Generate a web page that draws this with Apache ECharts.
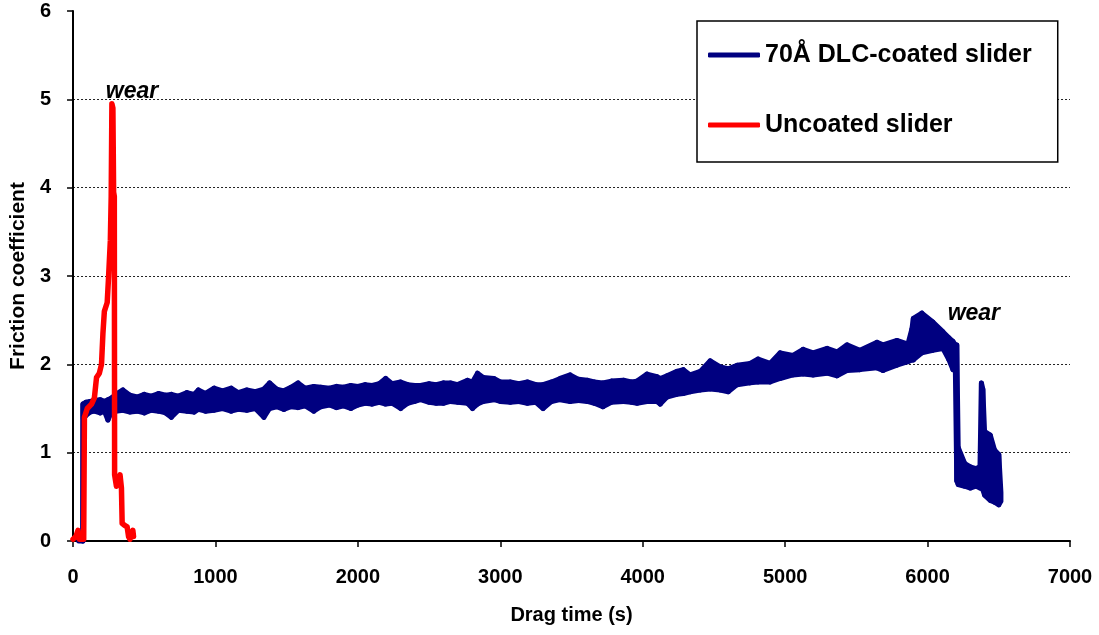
<!DOCTYPE html>
<html>
<head>
<meta charset="utf-8">
<script src="https://cdn.jsdelivr.net/npm/echarts@6/dist/echarts.min.js"></script>
<style>
  html, body { margin: 0; padding: 0; background: #fff; }
  #chart { width: 1099px; height: 635px; }
</style>
</head>
<body>
<div id="chart"></div>
<script>
// Axis ticks
const timeTicks = [0, 1000, 2000, 3000, 4000, 5000, 6000, 7000];
const frictionTicks = [0, 1, 2, 3, 4, 5, 6];

// 70Å DLC-coated slider: drag time (s) with the lower and upper edge of the
// friction trace (the signal oscillates quickly, so it is drawn as a band)
const dlcTime = [
  40, 68, 70, 72, 90, 120, 150, 190, 220, 245, 270, 300, 350, 400, 450, 500, 550, 600, 650, 690,
  740, 800, 850, 880, 930, 990, 1050, 1110, 1160, 1220, 1280, 1340, 1380, 1430, 1480, 1530, 1580, 1630, 1690, 1740,
  1800, 1850, 1900, 1950, 2000, 2050, 2100, 2150, 2195, 2240, 2300, 2350, 2400, 2440, 2500, 2550, 2600, 2650, 2700, 2770,
  2805, 2840, 2880, 2955, 3000, 3070, 3130, 3190, 3250, 3300, 3360, 3420, 3490, 3550, 3610, 3660, 3720, 3780, 3865, 3920,
  3960, 4030, 4100, 4123, 4170, 4240, 4285, 4333, 4404, 4474, 4544, 4600, 4663, 4754, 4810, 4894, 4965, 5055, 5126, 5196,
  5294, 5364, 5434, 5525, 5645, 5687, 5785, 5862, 5890, 5900, 5960, 6037, 6107, 6150, 6178, 6195, 6205, 6215, 6260, 6300,
  6340, 6368, 6378, 6388, 6400, 6440, 6470, 6500, 6515
];
const dlcLow = [
  0.00, 0.00, 0.00, 1.38, 1.42, 1.46, 1.47, 1.45, 1.47, 1.37, 1.46, 1.47, 1.48, 1.46, 1.47, 1.45, 1.48, 1.47, 1.45, 1.40,
  1.48, 1.47, 1.46, 1.49, 1.47, 1.48, 1.50, 1.47, 1.49, 1.48, 1.50, 1.40, 1.50, 1.52, 1.49, 1.52, 1.51, 1.53, 1.47, 1.52,
  1.54, 1.51, 1.53, 1.50, 1.54, 1.56, 1.55, 1.57, 1.55, 1.56, 1.50, 1.56, 1.58, 1.60, 1.57, 1.56, 1.56, 1.58, 1.57, 1.56,
  1.50, 1.55, 1.58, 1.60, 1.58, 1.57, 1.58, 1.56, 1.57, 1.50, 1.58, 1.60, 1.58, 1.59, 1.58, 1.56, 1.52, 1.57, 1.58, 1.57,
  1.56, 1.58, 1.58, 1.55, 1.63, 1.66, 1.67, 1.69, 1.71, 1.72, 1.71, 1.69, 1.77, 1.79, 1.80, 1.80, 1.84, 1.88, 1.89, 1.88,
  1.90, 1.87, 1.93, 1.94, 1.96, 1.93, 1.99, 2.03, 2.05, 2.05, 2.13, 2.16, 2.18, 2.05, 1.94, 1.95, 0.68, 0.64, 0.62, 0.60,
  0.62, 0.60, 0.60, 0.58, 0.52, 0.46, 0.44, 0.41, 0.45
];
const dlcHigh = [
  0.06, 0.06, 1.55, 1.55, 1.57, 1.58, 1.59, 1.60, 1.58, 1.60, 1.62, 1.66, 1.71, 1.65, 1.63, 1.66, 1.64, 1.67, 1.65, 1.66,
  1.64, 1.68, 1.66, 1.71, 1.67, 1.73, 1.70, 1.73, 1.68, 1.71, 1.69, 1.72, 1.79, 1.72, 1.70, 1.74, 1.79, 1.73, 1.75, 1.74,
  1.73, 1.75, 1.74, 1.76, 1.75, 1.77, 1.76, 1.78, 1.84, 1.78, 1.80, 1.77, 1.76, 1.76, 1.78, 1.77, 1.79, 1.79, 1.77, 1.82,
  1.80, 1.90, 1.85, 1.84, 1.80, 1.80, 1.78, 1.80, 1.77, 1.77, 1.80, 1.84, 1.88, 1.83, 1.82, 1.80, 1.79, 1.81, 1.82, 1.80,
  1.81, 1.89, 1.86, 1.84, 1.87, 1.92, 1.94, 1.88, 1.92, 2.04, 1.97, 1.95, 1.99, 2.01, 2.06, 2.01, 2.13, 2.10, 2.17, 2.13,
  2.18, 2.14, 2.22, 2.16, 2.25, 2.22, 2.27, 2.23, 2.40, 2.52, 2.58, 2.48, 2.37, 2.30, 2.26, 2.22, 2.22, 1.06, 0.88, 0.84,
  0.82, 0.84, 1.79, 1.72, 1.24, 1.20, 1.03, 0.98, 0.55
];

// Uncoated slider: drag time (s) and friction coefficient
const uncoatedTime = [
  0, 20, 35, 45, 60, 75, 80, 100, 130, 150, 165, 185, 200, 210, 220, 240, 250, 262, 268, 273,
  280, 285, 290, 292, 305, 320, 330, 340, 345, 360, 380, 390, 400, 420, 425
];
const uncoatedFriction = [
  0.02, 0.05, 0.12, 0.02, 0.02, 0.02, 1.40, 1.50, 1.55, 1.62, 1.85, 1.90, 2.00, 2.35, 2.60, 2.70, 3.00, 3.40, 3.90, 4.95,
  4.90, 3.95, 3.90, 0.75, 0.62, 0.70, 0.75, 0.60, 0.20, 0.18, 0.16, 0.05, 0.02, 0.12, 0.05
];

// Annotations
const noteText = ['wear', 'wear'];
const noteTime = [414, 6325];
const noteFriction = [5.09, 2.57];

const NAVY = '#000080';
const RED = '#ff0000';
const FONT = '"Liberation Sans", Arial, sans-serif';

const dlcRows = dlcTime.map((t, i) => [t, dlcLow[i], dlcHigh[i]]);
const uncoatedRows = uncoatedTime.map((t, i) => [t, uncoatedFriction[i]]);
const noteRows = noteText.map((s, i) => [noteTime[i], noteFriction[i], s]);

const chart = echarts.init(document.getElementById('chart'), null, { renderer: 'canvas' });

chart.setOption({
  animation: false,
  backgroundColor: '#fff',
  grid: { left: 72, right: 29, top: 11, bottom: 94, containLabel: false },
  legend: {
    orient: 'vertical',
    left: 697,
    top: 21,
    padding: [20, 26, 23, 11],
    itemGap: 42,
    itemWidth: 52,
    itemHeight: 5,
    borderColor: '#000',
    borderWidth: 1.5,
    borderRadius: 0,
    backgroundColor: '#fff',
    selectedMode: false,
    textStyle: { fontFamily: FONT, fontSize: 25, fontWeight: 'bold', color: '#000', lineHeight: 28 },
    data: [
      { name: '70Å DLC-coated slider', icon: 'roundRect', itemStyle: { color: NAVY } },
      { name: 'Uncoated slider', icon: 'roundRect', itemStyle: { color: RED } }
    ]
  },
  xAxis: {
    type: 'value',
    min: timeTicks[0],
    max: timeTicks[timeTicks.length - 1],
    interval: 1000,
    name: 'Drag time (s)',
    nameLocation: 'middle',
    nameGap: 64,
    nameTextStyle: { fontFamily: FONT, fontSize: 20, fontWeight: 'bold', color: '#000' },
    axisLine: { show: true, lineStyle: { color: '#000', width: 2 } },
    axisTick: { show: true, inside: false, length: 6, lineStyle: { color: '#000', width: 1.5 } },
    axisLabel: {
      margin: 26, fontFamily: FONT, fontSize: 20, fontWeight: 'bold', color: '#000',
      formatter: function (v) { return String(v); }
    },
    splitLine: { show: false }
  },
  yAxis: {
    type: 'value',
    min: frictionTicks[0],
    max: frictionTicks[frictionTicks.length - 1],
    interval: 1,
    name: 'Friction coefficient',
    nameLocation: 'middle',
    nameGap: 44,
    nameTextStyle: { fontFamily: FONT, fontSize: 21, fontWeight: 'bold', color: '#000' },
    axisLine: { show: true, lineStyle: { color: '#000', width: 2 } },
    axisTick: { show: true, inside: false, length: 6, lineStyle: { color: '#000', width: 1.5 } },
    axisLabel: {
      margin: 22, fontFamily: FONT, fontSize: 20, fontWeight: 'bold', color: '#000',
      formatter: function (v) { return String(v); }
    },
    splitLine: {
      show: true,
      showMinLine: false,
      showMaxLine: false,
      lineStyle: { color: '#222', width: 1, type: [2, 2] }
    }
  },
  series: [
    {
      name: '70Å DLC-coated slider',
      type: 'custom',
      z: 2,
      silent: true,
      itemStyle: { color: NAVY },
      dimensions: ['time', 'low', 'high'],
      encode: { x: 0, y: [1, 2] },
      data: dlcRows,
      renderItem: function (params, api) {
        const i = params.dataIndexInside;
        if (i >= params.dataInsideLength - 1) return null;
        const a0 = api.coord([api.value(0, i), api.value(1, i)]);
        const b0 = api.coord([api.value(0, i), api.value(2, i)]);
        const b1 = api.coord([api.value(0, i + 1), api.value(2, i + 1)]);
        const a1 = api.coord([api.value(0, i + 1), api.value(1, i + 1)]);
        return {
          type: 'polygon',
          shape: { points: [a0, b0, b1, a1] },
          style: { fill: NAVY, stroke: NAVY, lineWidth: 5, lineJoin: 'round' }
        };
      }
    },
    {
      name: 'Uncoated slider',
      type: 'line',
      z: 3,
      silent: true,
      showSymbol: false,
      symbol: 'none',
      data: uncoatedRows,
      itemStyle: { color: RED },
      lineStyle: { color: RED, width: 5.5, join: 'round', cap: 'round' }
    },
    {
      name: 'notes',
      type: 'scatter',
      z: 4,
      silent: true,
      symbolSize: 1,
      itemStyle: { color: '#fff', opacity: 0 },
      data: noteRows,
      label: {
        show: true,
        position: 'top',
        distance: 0,
        offset: [0, 12],
        opacity: 1,
        formatter: function (p) { return p.value[2]; },
        fontFamily: FONT,
        fontSize: 23,
        fontWeight: 'bold',
        fontStyle: 'italic',
        color: '#000',
        textBorderWidth: 0
      }
    }
  ]
});
</script>
</body>
</html>
